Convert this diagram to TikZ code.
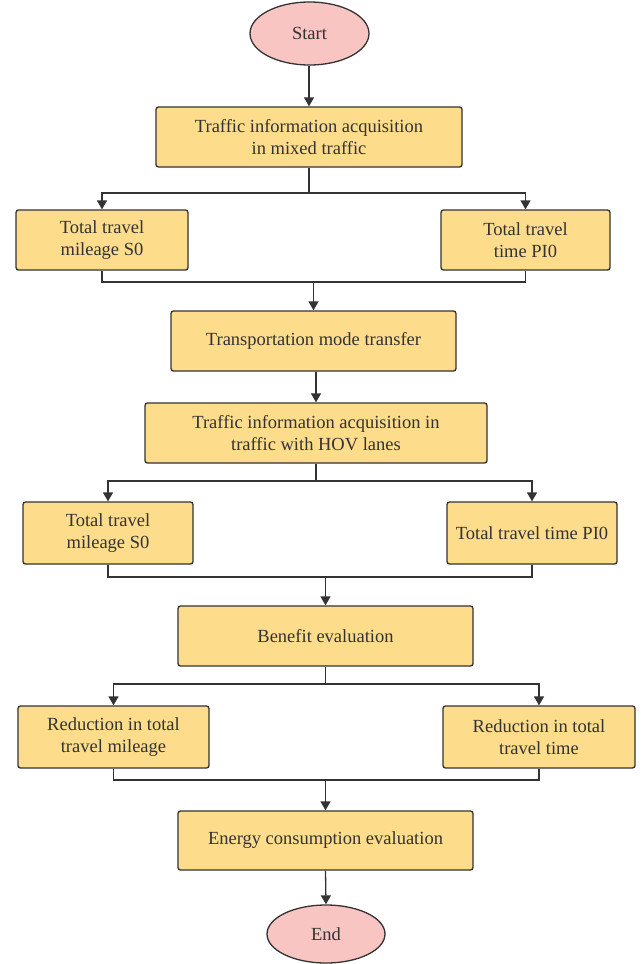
\documentclass[tikz,border=0pt]{standalone}
\usepackage{fontspec}
\setmainfont{Liberation Serif}
\usetikzlibrary{arrows.meta,shapes.geometric}
\definecolor{boxfill}{HTML}{FDDC8C}
\definecolor{ovalfill}{HTML}{F9C5C3}
\definecolor{linecol}{HTML}{333333}
\begin{document}
\begin{tikzpicture}[x=1pt,y=-1pt,
  font=\fontsize{18.5}{22}\selectfont,
  procbox/.style={draw=linecol, fill=boxfill, rounded corners=2.5pt, line width=1.3pt,
    align=center, text=linecol, inner sep=0pt},
  termnode/.style={ellipse, draw=linecol, fill=ovalfill, line width=1.3pt,
    text=linecol, inner sep=0pt},
  conn/.style={draw=linecol, line width=1.3pt},
  arr/.style={conn, -{Triangle[length=9pt,width=10pt]}}]
\useasboundingbox (0,0) rectangle (641,964);
\node[termnode, minimum width=119, minimum height=63] (start) at (309.5,33.5) {Start};
\node[procbox, minimum width=306, minimum height=60] (b1) at (309,137) {Traffic information acquisition\\in mixed traffic};
\node[procbox, minimum width=172, minimum height=60] (l1) at (102,240) {Total travel\\mileage S0};
\node[procbox, minimum width=169, minimum height=60] (r1) at (525.5,240) {Total travel\\time PI0};
\node[procbox, minimum width=285, minimum height=60] (b2) at (313.5,341) {Transportation mode transfer};
\node[procbox, minimum width=342, minimum height=60] (b3) at (316,433) {Traffic information acquisition in\\traffic with HOV lanes};
\node[procbox, minimum width=170, minimum height=62] (l2) at (108,533) {Total travel\\mileage S0};
\node[procbox, minimum width=170, minimum height=62] (r2) at (532,533) {Total travel time PI0};
\node[procbox, minimum width=295, minimum height=60] (b4) at (325.5,636) {Benefit evaluation};
\node[procbox, minimum width=191, minimum height=62] (l3) at (113.5,737) {Reduction in total\\travel mileage};
\node[procbox, minimum width=192, minimum height=62] (r3) at (539,737) {Reduction in total\\travel time};
\node[procbox, minimum width=295, minimum height=59] (b5) at (325.5,840.5) {Energy consumption evaluation};
\node[termnode, minimum width=118, minimum height=58] (stop) at (326,934) {End};

\coordinate (j1) at (309,193);
\coordinate (m1) at (313.5,282);
\coordinate (j2) at (316,481);
\coordinate (m2) at (325.5,577);
\coordinate (j3) at (325.5,684);
\coordinate (m3) at (325.5,780);

\draw[arr] (b1.north |- start.south) -- (b1.north);
\draw[conn] (b1.south) -- (j1);
\draw[arr] (j1) -| (l1.north);
\draw[arr] (j1) -| (r1.north);
\draw[conn] (l1.south) |- (m1) -| (r1.south);
\draw[arr] (m1) -- (b2.north);
\draw[arr] (b3.north |- b2.south) -- (b3.north);
\draw[conn] (b3.south) -- (j2);
\draw[arr] (j2) -| (l2.north);
\draw[arr] (j2) -| (r2.north);
\draw[conn] (l2.south) |- (m2) -| (r2.south);
\draw[arr] (m2) -- (b4.north);
\draw[conn] (b4.south) -- (j3);
\draw[arr] (j3) -| (l3.north);
\draw[arr] (j3) -| (r3.north);
\draw[conn] (l3.south) |- (m3) -| (r3.south);
\draw[arr] (m3) -- (b5.north);
\draw[arr] (b5.south) -- (stop.north);
\end{tikzpicture}
\end{document}
